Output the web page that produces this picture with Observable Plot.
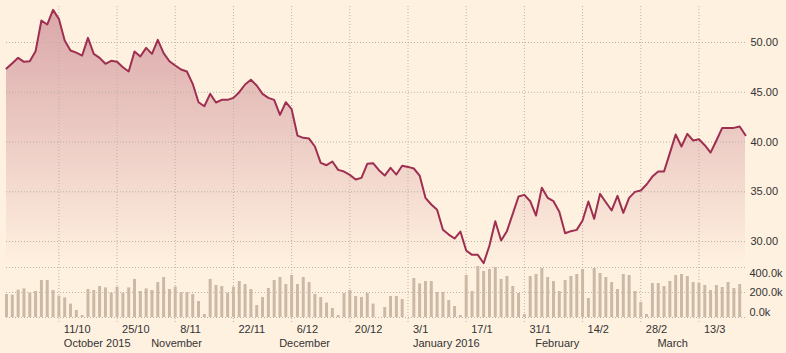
<!DOCTYPE html>
<html>
<head>
<meta charset="utf-8">
<script src="https://cdn.jsdelivr.net/npm/d3@7"></script>
<script src="https://cdn.jsdelivr.net/npm/@observablehq/plot@0.6"></script>
<style>
  html, body { margin: 0; padding: 0; background: #fff1e0; }
  #chart { width: 786px; height: 353px; overflow: hidden; }
  #chart svg { display: block; }
</style>
</head>
<body>
<div id="chart"></div>
<script>
// Daily closing prices (one per trading day)
const prices = [
  47.39, 47.92, 48.46, 48.06, 48.12, 49.13, 52.21, 51.81, 53.28, 52.38,
  50.20, 49.20, 48.99, 48.69, 50.47, 48.86, 48.46, 47.86, 48.16, 48.06,
  47.52, 47.09, 49.10, 48.59, 49.46, 48.86, 50.27, 48.93, 48.12, 47.69,
  47.29, 47.09, 45.85, 44.00, 43.60, 44.84, 43.97, 44.24, 44.24, 44.44,
  45.01, 45.78, 46.25, 45.68, 44.84, 44.44, 44.24, 42.73, 44.00, 43.30,
  40.65, 40.42, 40.35, 39.55, 37.91, 37.67, 38.04, 37.20, 37.03, 36.70,
  36.23, 36.40, 37.81, 37.87, 37.17, 36.63, 37.41, 36.73, 37.61, 37.50,
  37.34, 36.63, 34.39, 33.72, 33.19, 31.18, 30.70, 30.30, 31.00, 29.10,
  28.66, 28.66, 27.82, 29.60, 32.04, 30.10, 31.04, 32.78, 34.52, 34.69,
  34.05, 32.61, 35.40, 34.39, 34.05, 33.00, 30.83, 31.04, 31.17, 32.11,
  34.02, 32.28, 34.79, 33.95, 33.12, 34.59, 32.88, 34.39, 34.99, 35.13,
  35.73, 36.53, 37.04, 37.04, 38.88, 40.75, 39.55, 40.82, 40.15, 40.28,
  39.68, 38.94, 40.15, 41.42, 41.42, 41.42, 41.56, 40.68
];

// Daily volume, thousands of shares (last day has no bar)
const volumesK = [
  184, 179, 219, 229, 195, 208, 296, 296, 216, 171,
  157, 107, 56, 16, 224, 216, 248, 237, 195, 243,
  195, 237, 304, 208, 229, 216, 280, 320, 224, 243,
  200, 200, 184, 128, 24, 304, 256, 248, 195, 243,
  288, 264, 224, 96, 160, 232, 296, 320, 264, 336,
  264, 320, 280, 184, 160, 115, 72, 16, 192, 216,
  168, 160, 192, 107, 0, 80, 168, 168, 144, 0,
  312, 269, 288, 288, 200, 200, 136, 88, 16, 336,
  208, 408, 368, 384, 400, 304, 328, 248, 192, 24,
  328, 344, 392, 320, 288, 208, 296, 328, 344, 384,
  152, 392, 352, 320, 280, 224, 344, 336, 208, 120,
  24, 272, 272, 248, 288, 336, 344, 328, 280, 272,
  256, 216, 256, 240, 280, 232, 264, null
];

// Axis ticks (trading-day positions) and labels
const tickDays = [9, 19, 29, 39, 49, 59, 69, 79, 89, 99, 109, 119];
const tickLabels = ["11/10", "25/10", "8/11", "22/11", "6/12", "20/12", "3/1", "17/1", "31/1", "14/2", "28/2", "13/3"];
const monthDays = [9, 24, 46, 69, 90, 111];
const monthLabels = ["October 2015", "November", "December", "January 2016", "February", "March"];
const priceTicks = [30, 35, 40, 45, 50];
const volumeTicks = [400, 200, 0];
const volumeTickLabels = ["400.0k", "200.0k", "0.0k"];

const data = prices.map((p, i) => ({i, price: p, vol: volumesK[i]}));

const BG = "#fff1e0";
const GRID = "#bdb1a4";
const TEXT = "#333333";
const LINE = "#9e2f50";
const BAR = "#cbb9a5";
const FONT = "'Liberation Sans', Arial, sans-serif";
const xDomain = [0, prices.length - 1];
const priceDomain = [27.39, 53.62];

const style = {background: BG, fontFamily: FONT, fontSize: "11px", color: TEXT, overflow: "visible"};

const defs = () => {
  const g = d3.create("svg:defs");
  const lg = g.append("linearGradient").attr("id", "priceFill")
    .attr("x1", 0).attr("x2", 0).attr("y1", 0).attr("y2", 1);
  lg.append("stop").attr("offset", "0%").attr("stop-color", LINE).attr("stop-opacity", 0.38);
  lg.append("stop").attr("offset", "100%").attr("stop-color", LINE).attr("stop-opacity", 0);
  return g.node();
};

const pricePlot = Plot.plot({
  width: 786, height: 267,
  marginTop: 6, marginBottom: 0, marginLeft: 6, marginRight: 41,
  style,
  x: {domain: xDomain, axis: null},
  y: {domain: priceDomain, axis: null},
  marks: [
    defs,
    Plot.areaY(data, {x: "i", y1: priceDomain[0], y2: "price", fill: "url(#priceFill)"}),
    Plot.gridY(priceTicks, {stroke: GRID, strokeOpacity: 1, strokeDasharray: "1,2"}),
    Plot.gridX(tickDays, {stroke: GRID, strokeOpacity: 1, strokeDasharray: "1,2"}),
    Plot.lineY(data, {x: "i", y: "price", stroke: LINE, strokeWidth: 2}),
    Plot.axisY(priceTicks, {anchor: "right", tickSize: 0, tickPadding: 5, tickFormat: d => d.toFixed(2), fill: TEXT, fontSize: 11, label: null})
  ]
});

const volLabelDy = [6, 0, -5];

const volumePlot = Plot.plot({
  width: 786, height: 86,
  marginTop: 0, marginBottom: 36, marginLeft: 6, marginRight: 41,
  style,
  x: {domain: xDomain, axis: null},
  y: {domain: [0, 400], axis: null},
  marks: [
    Plot.gridY(volumeTicks, {stroke: GRID, strokeOpacity: 1, strokeDasharray: "1,2"}),
    Plot.gridX(tickDays, {stroke: GRID, strokeOpacity: 1, strokeDasharray: "1,2", insetBottom: -5}),
    Plot.ruleX(data.filter(d => d.vol), {x: "i", y1: 0, y2: "vol", stroke: BAR, strokeWidth: 3}),
    Plot.text(tickDays, {x: d => d, text: (d, k) => tickLabels[k], frameAnchor: "bottom", dy: 12, dx: 5, textAnchor: "start", lineAnchor: "middle", fill: TEXT, fontSize: 11}),
    Plot.text(monthDays, {x: d => d, text: (d, k) => monthLabels[k], frameAnchor: "bottom", dy: 26, dx: 5, textAnchor: "start", lineAnchor: "middle", fill: TEXT, fontSize: 11}),
    ...volumeTicks.map((v, k) => Plot.text([v], {y: d => d, text: () => volumeTickLabels[k], frameAnchor: "right", dx: 4, dy: volLabelDy[k], textAnchor: "start", lineAnchor: "middle", fill: TEXT, fontSize: 11}))
  ]
});

const chart = document.getElementById("chart");
chart.appendChild(pricePlot);
chart.appendChild(volumePlot);
</script>
</body>
</html>
